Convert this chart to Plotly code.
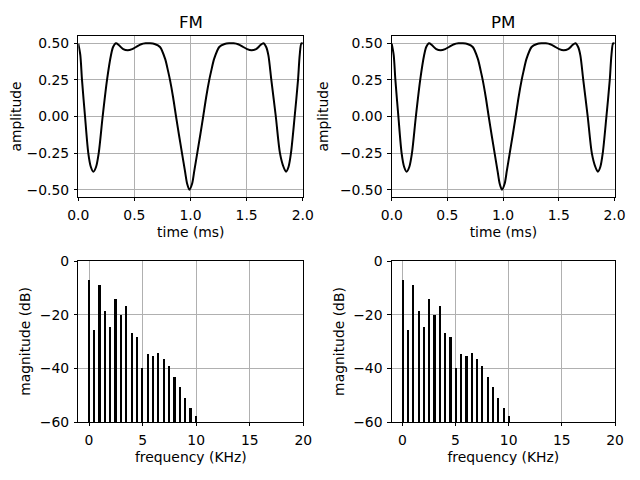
import plotly.graph_objects as go

# ---- data ----
t_ms = [0.0, 0.018, 0.033, 0.06, 0.089, 0.112, 0.134, 0.158, 0.182, 0.217, 0.256, 0.291, 0.31, 0.336,
        0.36, 0.40, 0.44, 0.48, 0.52, 0.56, 0.60, 0.64, 0.68, 0.728, 0.773, 0.80, 0.817, 0.845, 0.871,
        0.898, 0.924, 0.95, 0.97, 0.99,
        1.014, 1.034, 1.06, 1.086, 1.113, 1.139, 1.167, 1.184, 1.211, 1.256, 1.304, 1.344, 1.384, 1.424,
        1.464, 1.504, 1.544, 1.584, 1.624, 1.649, 1.674, 1.694, 1.72, 1.76, 1.797, 1.829, 1.851, 1.873,
        1.895, 1.928, 1.958, 1.973, 1.988, 2.0]
fm_amp = [0.498, 0.42, 0.25, 0.0, -0.25, -0.345, -0.377, -0.345, -0.25, 0.0, 0.25, 0.418, 0.475, 0.5,
          0.488, 0.46, 0.452, 0.46, 0.478, 0.494, 0.5, 0.5, 0.495, 0.475, 0.395, 0.31, 0.25, 0.13, 0.0,
          -0.13, -0.25, -0.37, -0.46, -0.5,
          -0.46, -0.37, -0.25, -0.13, 0.0, 0.13, 0.25, 0.31, 0.395, 0.475, 0.495, 0.5, 0.5, 0.494,
          0.478, 0.46, 0.452, 0.46, 0.488, 0.5, 0.475, 0.418, 0.25, 0.0, -0.25, -0.345, -0.377, -0.345,
          -0.25, 0.0, 0.25, 0.42, 0.5, 0.498]
pm_amp = list(fm_amp)

freq_khz = [0.0, 0.5, 1.0, 1.5, 2.0, 2.5, 3.0, 3.5, 4.0, 4.5, 5.0, 5.5, 6.0, 6.5, 7.0, 7.5, 8.0, 8.5,
            9.0, 9.5, 10.0]
fm_db = [-7.2, -25.6, -9.0, -18.5, -24.7, -14.1, -20.1, -16.9, -26.8, -28.5, -39.9, -34.8, -35.4,
         -34.4, -36.5, -39.0, -43.1, -47.0, -51.2, -54.7, -57.7]
pm_db = [-7.2, -25.6, -9.0, -18.5, -24.7, -14.1, -20.1, -16.9, -26.8, -28.5, -39.9, -34.8, -35.4,
         -34.4, -36.5, -39.0, -43.1, -47.0, -51.2, -54.7, -57.7]

amp_ticks = [-0.5, -0.25, 0.0, 0.25, 0.5]
time_ticks = [0.0, 0.5, 1.0, 1.5, 2.0]
db_ticks = [-60, -40, -20, 0]
freq_ticks = [0, 5, 10, 15, 20]
DB_FLOOR = -60

FONT = "DejaVu Sans"
W, H = 640, 480
OFF = 8  # page body margin in the browser


def px_x(v):
    return (v - OFF) / W


def px_y(v):
    return (H - (v - OFF)) / H


fig = go.Figure()
fig.add_trace(go.Scatter(x=t_ms, y=fm_amp, mode="lines", line=dict(color="black", width=2, shape="spline", smoothing=0.8),
                         xaxis="x", yaxis="y", showlegend=False))
fig.add_trace(go.Scatter(x=t_ms, y=pm_amp, mode="lines", line=dict(color="black", width=2, shape="spline", smoothing=0.8),
                         xaxis="x2", yaxis="y2", showlegend=False))
fig.add_trace(go.Bar(x=freq_khz, y=[d - DB_FLOOR for d in fm_db], base=DB_FLOOR, width=0.2,
                     marker=dict(color="black", line=dict(width=0)), xaxis="x3", yaxis="y3", showlegend=False))
fig.add_trace(go.Bar(x=freq_khz, y=[d - DB_FLOOR for d in pm_db], base=DB_FLOOR, width=0.2,
                     marker=dict(color="black", line=dict(width=0)), xaxis="x4", yaxis="y4", showlegend=False))


def ax(**kw):
    d = dict(showline=True, linecolor="black", linewidth=0.8, mirror=True, ticks="outside", ticklen=3.5,
             tickwidth=0.8, tickcolor="black", showgrid=True, gridcolor="#b0b0b0", gridwidth=0.8,
             zeroline=False, automargin=False, tickfont=dict(family=FONT, size=13.9, color="black"),
             title_font=dict(family=FONT, size=13.9, color="black"))
    d.update(kw)
    return d


xl = [px_x(78.3), px_x(303.3)]
xr = [px_x(391.7), px_x(615.0)]
yt = [px_y(197), px_y(36)]
yb = [px_y(422), px_y(261)]

XLAB = dict(ticklabelstandoff=2)
YLAB = dict(ticklabelstandoff=2)

fig.update_layout(
    width=W, height=H, margin=dict(l=0, r=0, t=0, b=0, autoexpand=False),
    paper_bgcolor="white", plot_bgcolor="white",
    font=dict(family=FONT, size=13.9, color="black"),
    bargap=0,
    xaxis=ax(domain=xl, anchor="y", range=[0, 2.005], tickvals=time_ticks, tickformat=".1f",
             title=dict(text="time (ms)", standoff=5), **XLAB),
    yaxis=ax(domain=yt, anchor="x", range=[-0.55, 0.55], tickvals=amp_ticks, tickformat=".2f",
             title=dict(text="amplitude", standoff=8), **YLAB),
    xaxis2=ax(domain=xr, anchor="y2", range=[0, 2.005], tickvals=time_ticks, tickformat=".1f",
              title=dict(text="time (ms)", standoff=5), **XLAB),
    yaxis2=ax(domain=yt, anchor="x2", range=[-0.55, 0.55], tickvals=amp_ticks, tickformat=".2f",
              title=dict(text="amplitude", standoff=8), **YLAB),
    xaxis3=ax(domain=xl, anchor="y3", range=[-1, 20], tickvals=freq_ticks,
              title=dict(text="frequency (KHz)", standoff=5), **XLAB),
    yaxis3=ax(domain=yb, anchor="x3", range=[-60, 0], tickvals=db_ticks,
              title=dict(text="magnitude (dB)", standoff=5), **YLAB),
    xaxis4=ax(domain=xr, anchor="y4", range=[-1, 20], tickvals=freq_ticks,
              title=dict(text="frequency (KHz)", standoff=5), **XLAB),
    yaxis4=ax(domain=yb, anchor="x4", range=[-60, 0], tickvals=db_ticks,
              title=dict(text="magnitude (dB)", standoff=5), **YLAB),
    annotations=[
        dict(text="FM", x=(xl[0] + xl[1]) / 2, y=px_y(22), xref="paper", yref="paper",
             showarrow=False, font=dict(family=FONT, size=16.7, color="black"), xanchor="center", yanchor="middle"),
        dict(text="PM", x=(xr[0] + xr[1]) / 2, y=px_y(22), xref="paper", yref="paper",
             showarrow=False, font=dict(family=FONT, size=16.7, color="black"), xanchor="center", yanchor="middle"),
    ],
)

fig.write_html("out.html")
